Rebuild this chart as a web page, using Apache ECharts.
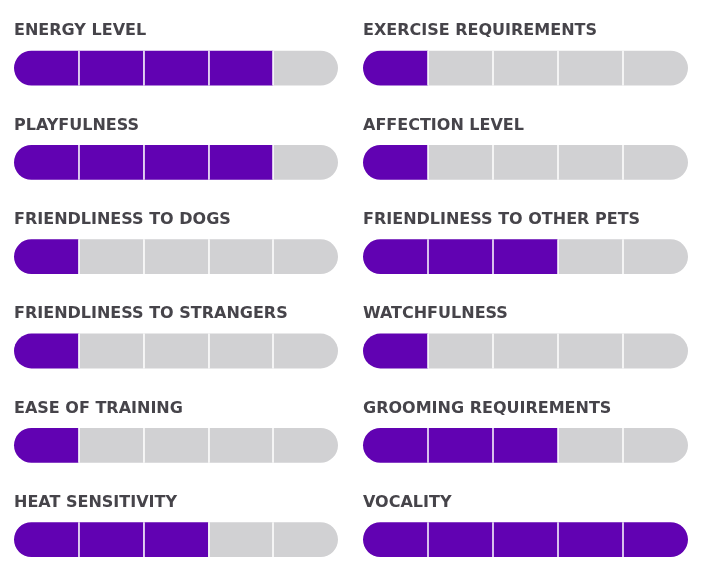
<!DOCTYPE html>
<html><head><meta charset="utf-8">
<script src="https://cdn.jsdelivr.net/npm/echarts@6/dist/echarts.min.js"></script>
<style>html,body{margin:0;padding:0;background:#fff}#c{width:706px;height:580px}</style>
</head><body><div id="c"></div>
<script>
const traitsLeft = ['ENERGY LEVEL','PLAYFULNESS','FRIENDLINESS TO DOGS','FRIENDLINESS TO STRANGERS','EASE OF TRAINING','HEAT SENSITIVITY'];
const ratingsLeft = [4, 4, 1, 1, 1, 3];
const traitsRight = ['EXERCISE REQUIREMENTS','AFFECTION LEVEL','FRIENDLINESS TO OTHER PETS','WATCHFULNESS','GROOMING REQUIREMENTS','VOCALITY'];
const ratingsRight = [1, 1, 3, 1, 3, 5];
const maxScore = 5;

const PURPLE = '#6102b2', GRAY = '#d1d1d3', TEXT = '#46444a';
const chart = echarts.init(document.getElementById('c'));
const grids = [], xAxes = [], yAxes = [], series = [], titles = [];
const rowTop0 = 50.7, rowStep = 94.3, barH = 34.8;

function addBar(label, rating, left, width, row) {
  const gi = grids.length;
  const top = rowTop0 + row * rowStep;
  grids.push({left: left, top: top, width: width, height: barH});
  xAxes.push({gridIndex: gi, type: 'value', min: 0, max: maxScore, show: false});
  yAxes.push({gridIndex: gi, type: 'category', data: [label], show: false});
  titles.push({text: label, left: left, top: top - 27.5, padding: 0,
    textStyle: {fontFamily: 'DejaVu Sans', fontWeight: 'bold', fontSize: 16, color: TEXT}});
  for (let s = 0; s < maxScore; s++) {
    const r = barH / 2;
    const radius = s === 0 ? [r, 0, 0, r] : (s === maxScore - 1 ? [0, r, r, 0] : 0);
    series.push({
      type: 'bar', xAxisIndex: gi, yAxisIndex: gi, stack: 'g' + gi,
      barWidth: '100%', silent: true, animation: false,
      data: [1],
      itemStyle: {color: s < rating ? PURPLE : GRAY, borderRadius: radius, borderWidth: 0},
    });
  }
}
traitsLeft.forEach((t, i) => addBar(t, ratingsLeft[i], 14, 324, i));
traitsRight.forEach((t, i) => addBar(t, ratingsRight[i], 363, 325, i));

// thin white separators at segment boundaries
grids.forEach((g, gi) => {
  series.push({
    type: 'scatter', xAxisIndex: gi, yAxisIndex: gi, silent: true, animation: false,
    data: [], symbolSize: 0,
    markLine: {silent: true, symbol: 'none', label: {show: false},
      lineStyle: {color: '#fff', width: 1.5, type: 'solid'},
      data: [1,2,3,4].map(v => ({xAxis: v}))}
  });
});

chart.setOption({animation: false, title: titles, grid: grids, xAxis: xAxes, yAxis: yAxes, series: series});
</script></body></html>
